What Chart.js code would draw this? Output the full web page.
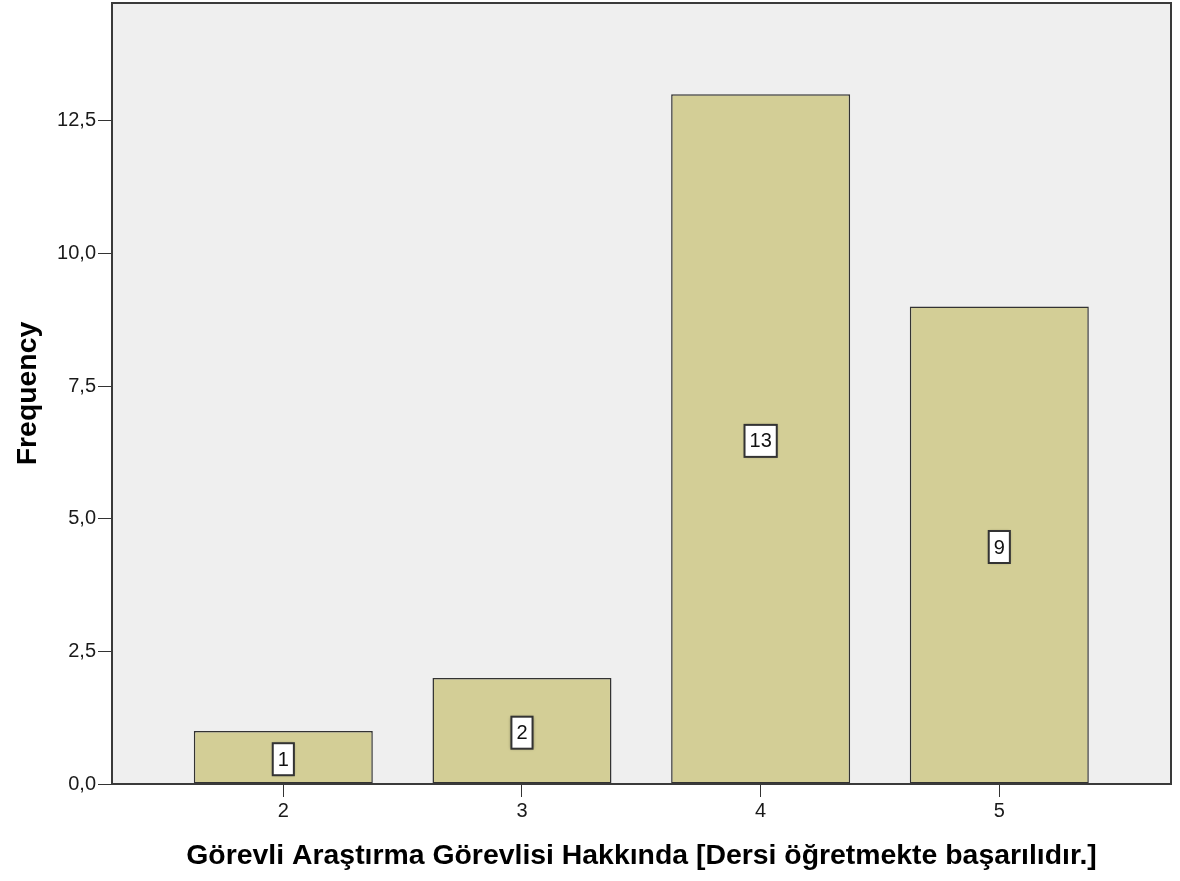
<!DOCTYPE html>
<html>
<head>
<meta charset="utf-8">
<script src="https://cdn.jsdelivr.net/npm/chart.js@4.4.1/dist/chart.umd.min.js"></script>
<style>
  body { margin: 0; background: #ffffff; }
  #wrap { width: 1180px; height: 881px; }
</style>
</head>
<body>
<div id="wrap"><canvas id="chart" width="1180" height="881"></canvas></div>
<script>
var categories = [2, 3, 4, 5];
var frequencies = [1, 2, 13, 9];
var yTicks = [0, 2.5, 5, 7.5, 10, 12.5];
var xTitle = 'Görevli Araştırma Görevlisi Hakkında [Dersi öğretmekte başarılıdır.]';
var yTitle = 'Frequency';

var points = categories.map(function (c, i) {
  return { x: c, y: frequencies[i] };
});

// plot background + frame
var frame = {
  id: 'frame',
  beforeDatasetsDraw: function (chart) {
    var a = chart.chartArea, ctx = chart.ctx;
    ctx.save();
    ctx.fillStyle = '#efefef';
    ctx.fillRect(a.left, a.top, a.right - a.left, a.bottom - a.top);
    ctx.restore();
  },
  afterDatasetsDraw: function (chart) {
    var a = chart.chartArea, ctx = chart.ctx;
    ctx.save();
    ctx.strokeStyle = '#3a3a3a';
    ctx.lineWidth = 2;
    ctx.strokeRect(a.left, a.top, a.right - a.left, a.bottom - a.top);
    ctx.restore();
  }
};

// boxed count labels in middle of bars
var boxLabels = {
  id: 'boxLabels',
  afterDraw: function (chart) {
    var ctx = chart.ctx;
    var meta = chart.getDatasetMeta(0);
    ctx.save();
    ctx.font = '20px "Liberation Sans", Arial, sans-serif';
    ctx.textAlign = 'center';
    ctx.textBaseline = 'middle';
    meta.data.forEach(function (bar, i) {
      var txt = String(frequencies[i]);
      var w = ctx.measureText(txt).width + 10;
      var h = 32;
      var cx = bar.x;
      var cy = (bar.y + bar.base) / 2 + 2;
      ctx.save();
      ctx.shadowColor = 'rgba(0,0,0,0.5)';
      ctx.shadowBlur = 3;
      ctx.fillStyle = '#ffffff';
      ctx.fillRect(cx - w / 2, cy - h / 2, w, h);
      ctx.restore();
      ctx.strokeStyle = '#333333';
      ctx.lineWidth = 2;
      ctx.strokeRect(cx - w / 2, cy - h / 2, w, h);
      ctx.fillStyle = '#111111';
      ctx.fillText(txt, cx, cy + 1);
    });
    ctx.restore();
  }
};

new Chart(document.getElementById('chart'), {
  type: 'bar',
  data: {
    datasets: [{
      data: points,
      backgroundColor: '#d3ce96',
      borderColor: '#333333',
      borderWidth: 1.5,
      borderSkipped: false,
      barPercentage: 0.75,
      categoryPercentage: 1
    }]
  },
  options: {
    responsive: false,
    animation: false,
    layout: { padding: { top: 3, right: 9, left: 0, bottom: 0 } },
    plugins: {
      legend: { display: false },
      tooltip: { enabled: false }
    },
    scales: {
      x: {
        type: 'linear',
        offset: false,
        min: 1.2822,
        max: 5.7194,
        afterBuildTicks: function (scale) {
          scale.ticks = categories.map(function (v) { return { value: v }; });
        },
        afterFit: function (scale) {
          scale.height = 97;
          scale.paddingLeft = 0;
          scale.paddingRight = 0;
        },
        grid: { offset: false, drawOnChartArea: false, drawTicks: true, tickLength: 13, tickColor: '#333333', tickWidth: 1 },
        border: { display: false },
        ticks: {
          padding: 2,
          color: '#1a1a1a',
          font: { family: '"Liberation Sans", Arial, sans-serif', size: 20 },
          maxRotation: 0,
          callback: function (v) { return String(v); }
        },
        title: {
          display: true,
          text: xTitle,
          color: '#000000',
          font: { family: '"Liberation Sans", Arial, sans-serif', size: 28.4, weight: 'bold' },
          padding: { top: 0, bottom: 8 }
        }
      },
      y: {
        min: 0,
        max: 14.72,
        afterBuildTicks: function (scale) {
          scale.ticks = yTicks.map(function (v) { return { value: v }; });
        },
        afterFit: function (scale) {
          scale.width = 112;
          scale.paddingTop = 0;
          scale.paddingBottom = 0;
        },
        grid: { drawOnChartArea: false, drawTicks: true, tickLength: 14, tickColor: '#333333', tickWidth: 1 },
        border: { display: false },
        ticks: {
          padding: 2,
          color: '#1a1a1a',
          font: { family: '"Liberation Sans", Arial, sans-serif', size: 20 },
          callback: function (v) { return v.toFixed(1).replace('.', ','); }
        },
        title: {
          display: true,
          text: yTitle,
          color: '#000000',
          font: { family: '"Liberation Sans", Arial, sans-serif', size: 28.4, weight: 'bold' },
          padding: { top: 11, bottom: 0 }
        }
      }
    }
  },
  plugins: [frame, boxLabels]
});
</script>
</body>
</html>
